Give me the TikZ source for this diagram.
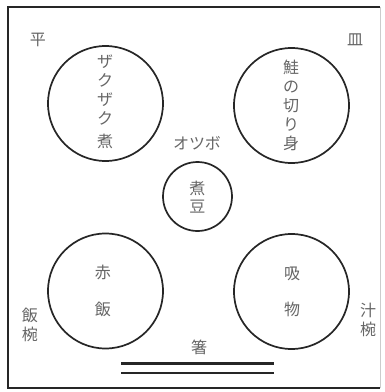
\documentclass[tikz,border=0pt]{standalone}
\usepackage{fontspec}
\newfontfamily\jp{Noto Sans CJK JP}
\begin{document}
\begin{tikzpicture}[x=1pt,y=-1pt,
  dish/.style={draw=black!85,line width=1.7pt,circle,minimum size=#1,inner sep=0pt},
  lbl/.style={text=black!60,font=\jp\fontsize{16}{19}\selectfont,align=center,inner sep=0pt},
  frame/.style={draw=black!85,line width=2pt},
  chop/.style={draw=black!85,line width=2.4pt}]
\useasboundingbox (0,0) rectangle (385,392);
\fill[white] (0,0) rectangle (385,392);
\coordinate (tl) at (8,7);
\coordinate (tr) at (380,7);
\coordinate (bl) at (8,388);
\coordinate (br) at (380,388);
\draw[frame] (tr) -- (tl) -- (bl) -- (br);
\draw[draw=black!20,line width=1pt] (tr) -- (br);
% dishes
\node[dish=115pt] (zaku) at (105.5,103.5) {};
\node[dish=115pt] (sake) at (291.5,105.5) {};
\node[dish=115pt] (seki) at (105.5,291) {};
\node[dish=115pt] (sui) at (291.5,291.5) {};
\node[dish=69pt] (tsubo) at (197.5,196.5) {};
% dish contents
\node[lbl] (tz) at (105,102) {ザ\\ク\\ザ\\ク\\[4pt]煮};
\node[lbl] (ts) at (291,105.5) {鮭\\の\\切\\り\\身};
\node[lbl,font=\jp\fontsize{16}{37}\selectfont] (tse) at (103,290.5) {赤\\飯};
\node[lbl,font=\jp\fontsize{16}{36}\selectfont] (tsu) at (292,292) {吸\\物};
\node[lbl,font=\jp\fontsize{16}{18}\selectfont] (tn) at (197.5,197) {煮\\豆};
% outside labels
\node[lbl] (hira) at (38,40) {平};
\node[lbl] (sara) at (355,40) {皿};
\node[lbl] (otsubo) at (197,143) {オツボ};
\node[lbl] (meshi) at (30,324.5) {飯\\椀};
\node[lbl] (shiru) at (368,320) {汁\\椀};
\node[lbl] (hashi) at (199,347) {箸};
% chopsticks
\coordinate (h1a) at (121,363.5);
\coordinate (h1b) at (274,363.5);
\coordinate (h2a) at (121,373);
\coordinate (h2b) at (274,373);
\draw[chop] (h1a) -- (h1b);
\draw[chop] (h2a) -- (h2b);
\end{tikzpicture}
\end{document}
